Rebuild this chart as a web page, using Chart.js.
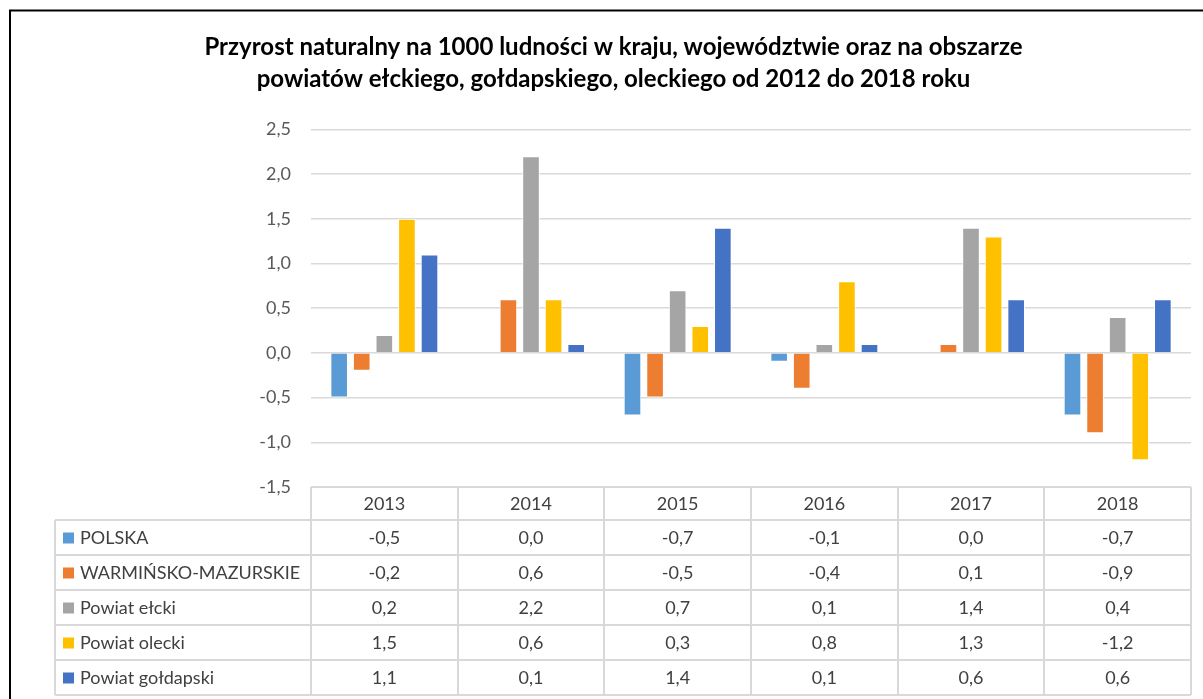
<!DOCTYPE html>
<html lang="pl">
<head>
<meta charset="utf-8">
<script src="https://cdn.jsdelivr.net/npm/chart.js@4.4.1/dist/chart.umd.min.js"></script>
<style>
  html, body { margin: 0; padding: 0; background: #fff; }
  #wrap { width: 1203px; height: 699px; position: relative; }
</style>
</head>
<body>
<div id="wrap"><canvas id="przyrostChart"></canvas></div>
<script>
const years = ['2013', '2014', '2015', '2016', '2017', '2018'];
const seriesNames = ['POLSKA', 'WARMIŃSKO-MAZURSKIE', 'Powiat ełcki', 'Powiat olecki', 'Powiat gołdapski'];
const polska = [-0.5, 0.0, -0.7, -0.1, 0.0, -0.7];
const warminskoMazurskie = [-0.2, 0.6, -0.5, -0.4, 0.1, -0.9];
const powiatElcki = [0.2, 2.2, 0.7, 0.1, 1.4, 0.4];
const powiatOlecki = [1.5, 0.6, 0.3, 0.8, 1.3, -1.2];
const powiatGoldapski = [1.1, 0.1, 1.4, 0.1, 0.6, 0.6];
const seriesColors = ['#5B9BD5', '#ED7D31', '#A5A5A5', '#FFC000', '#4472C4'];

const allSeries = [polska, warminskoMazurskie, powiatElcki, powiatOlecki, powiatGoldapski];
const fmt = v => v.toFixed(1).replace('.', ',');
const FONT = 'Lato, "Open Sans", sans-serif';

// ramka + tabela danych pod wykresem
const tablePlugin = {
  id: 'dataTable',
  afterDraw(chart) {
    const ctx = chart.ctx;
    const x = chart.scales.x;
    const area = chart.chartArea;
    const colW = (x.right - x.left) / years.length;
    const headH = 33, rowH = 35, labelLeft = 55;
    const top = area.bottom;

    ctx.save();
    // ramka
    ctx.strokeStyle = '#000';
    ctx.lineWidth = 2;
    ctx.beginPath();
    ctx.moveTo(10, 700);
    ctx.lineTo(10, 10.5);
    ctx.lineTo(1210, 10.5);
    ctx.stroke();

    ctx.strokeStyle = '#d9d9d9';
    ctx.lineWidth = 2;
    ctx.beginPath();
    const bottom = top + headH + rowH * seriesNames.length;
    // pionowe
    for (let i = 0; i <= years.length; i++) {
      const px = Math.round(x.left + i * colW);
      ctx.moveTo(px, top);
      ctx.lineTo(px, bottom);
    }
    ctx.moveTo(labelLeft, top + headH);
    ctx.lineTo(labelLeft, bottom);
    // poziome
    ctx.moveTo(x.left, top);
    ctx.lineTo(x.right, top);
    for (let r = 0; r <= seriesNames.length; r++) {
      const py = top + headH + r * rowH;
      ctx.moveTo(labelLeft, py);
      ctx.lineTo(x.right, py);
    }
    ctx.stroke();

    ctx.fillStyle = '#404040';
    ctx.font = '18px ' + FONT;
    ctx.textBaseline = 'middle';
    ctx.textAlign = 'center';
    years.forEach((y, i) => {
      ctx.fillText(y, x.getPixelForValue(i), top + headH / 2 + 1);
    });
    seriesNames.forEach((name, r) => {
      const cy = top + headH + r * rowH + rowH / 2 + 1;
      ctx.fillStyle = seriesColors[r];
      ctx.fillRect(63, cy - 6, 11, 11);
      ctx.fillStyle = '#404040';
      ctx.textAlign = 'left';
      ctx.fillText(name, 80, cy);
      ctx.textAlign = 'center';
      allSeries[r].forEach((v, i) => {
        ctx.fillText(fmt(v), x.getPixelForValue(i), cy);
      });
    });
    ctx.restore();
  }
};

new Chart(document.getElementById('przyrostChart').getContext('2d'), {
  type: 'bar',
  data: {
    labels: years,
    datasets: seriesNames.map((name, i) => ({
      label: name,
      data: allSeries[i],
      backgroundColor: seriesColors[i],
      borderColor: '#ffffff',
      borderWidth: 1,
      categoryPercentage: 0.77,
      barPercentage: 0.78
    }))
  },
  options: {
    responsive: true,
    maintainAspectRatio: false,
    animation: false,
    layout: { padding: { top: 0, left: 36, right: 12, bottom: 212 } },
    plugins: {
      legend: { display: false },
      tooltip: { enabled: false },
      title: {
        display: true,
        text: ['Przyrost naturalny na 1000 ludności w kraju, województwie oraz na obszarze',
               'powiatów ełckiego, gołdapskiego, oleckiego od 2012 do 2018 roku'],
        color: '#000',
        font: { family: FONT, size: 24, weight: 'bold', lineHeight: 1.34 },
        padding: { top: 31, bottom: 34 }
      }
    },
    scales: {
      x: { display: false },
      y: {
        min: -1.5,
        max: 2.5,
        border: { display: false },
        grid: { color: '#d9d9d9', lineWidth: 1.5, drawTicks: false },
        ticks: {
          stepSize: 0.5,
          padding: 20,
          color: '#595959',
          font: { family: FONT, size: 18 },
          callback: v => fmt(v)
        },
        afterFit(scale) { scale.width = 311 - 36; }
      }
    }
  },
  plugins: [tablePlugin]
});
</script>
</body>
</html>
